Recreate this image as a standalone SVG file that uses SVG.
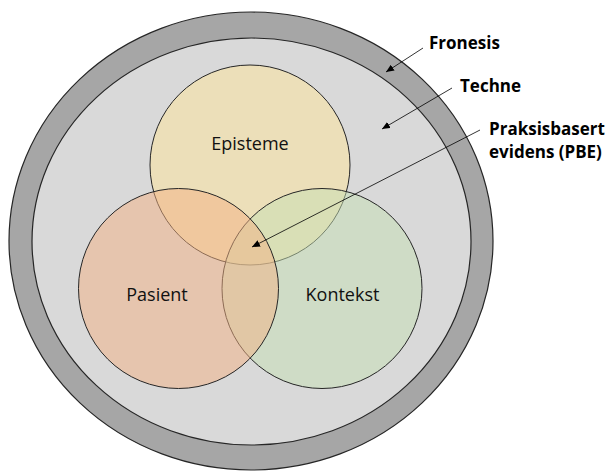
<svg xmlns="http://www.w3.org/2000/svg" width="609" height="471" viewBox="0 0 609 471">
  <style>
    .ring { stroke: #262626; stroke-width: 1.2; }
    .set { stroke: #262626; stroke-width: 1; fill-opacity: 0.5; }
    .lbl { font-family: "Open Sans", "Liberation Sans", sans-serif; font-size: 18px; fill: #111; text-anchor: middle; }
    .side { font-family: "Open Sans", "Liberation Sans", sans-serif; font-size: 17px; font-weight: bold; fill: #000; }
    .conn { stroke: #000; stroke-width: 0.8; fill: none; marker-end: url(#arrow); }
  </style>
  <defs>
    <marker id="arrow" markerUnits="userSpaceOnUse" markerWidth="9" markerHeight="7" refX="8" refY="3.5" orient="auto">
      <path d="M0,0 L8,3.5 L0,7 Z" fill="#000"/>
    </marker>
  </defs>
  <rect width="609" height="471" fill="#fff"/>
  <g id="fronesis">
    <ellipse class="ring" cx="251" cy="241" rx="242" ry="229" fill="#a6a6a6"/>
  </g>
  <g id="techne">
    <ellipse class="ring" cx="251.5" cy="241.5" rx="219.5" ry="203.5" fill="#d9d9d9"/>
  </g>
  <g id="episteme">
    <circle class="set" cx="250" cy="165" r="100" fill="#FFE699"/>
  </g>
  <g id="kontekst">
    <circle class="set" cx="322" cy="288.5" r="100" fill="#C5E0B4"/>
  </g>
  <g id="pasient">
    <circle class="set" cx="178.5" cy="288.5" r="100" fill="#F4B183"/>
  </g>
  <g id="node-labels">
    <text class="lbl" x="250" y="150">Episteme</text>
    <text class="lbl" x="157" y="301">Pasient</text>
    <text class="lbl" x="342.5" y="301">Kontekst</text>
  </g>
  <g id="side-labels">
    <text class="side" x="429" y="49">Fronesis</text>
    <text class="side" x="460" y="92">Techne</text>
    <text class="side" x="489" y="135">Praksisbasert</text>
    <text class="side" x="489" y="158">evidens (PBE)</text>
  </g>
  <g id="connectors">
    <line class="conn" x1="423" y1="48" x2="386" y2="72"/>
    <line class="conn" x1="452" y1="88" x2="382" y2="129"/>
    <line class="conn" x1="480" y1="130" x2="252" y2="247"/>
  </g>
</svg>
